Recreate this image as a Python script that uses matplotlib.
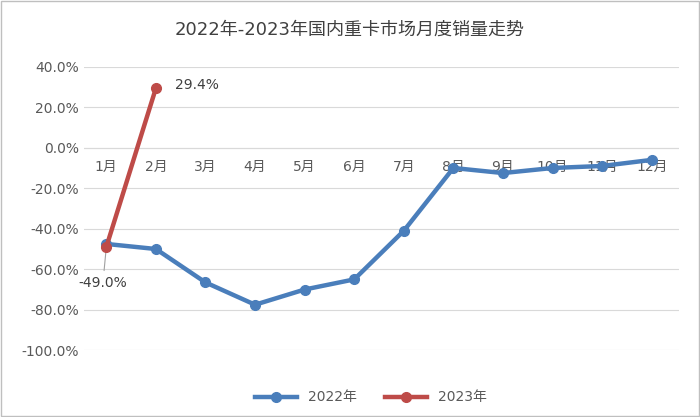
import numpy as np
import matplotlib.pyplot as plt
from matplotlib import font_manager

cjk = [f.name for f in font_manager.fontManager.ttflist if 'CJK' in f.name]
plt.rcParams['font.family'] = ['DejaVu Sans'] + sorted(set(cjk))

months = ['1月', '2月', '3月', '4月', '5月', '6月', '7月', '8月', '9月', '10月', '11月', '12月']
sales_2022 = [-47.5, -50.0, -66.5, -77.5, -70.0, -65.0, -41.0, -10.0, -12.5, -10.0, -9.0, -6.0]
sales_2023 = [-49.0, 29.4]

fig = plt.figure(figsize=(7.0, 4.17), dpi=100)
ax = fig.add_axes([0.12, 0.16, 0.85, 0.68])
x = np.arange(len(months))

ax.plot(x, sales_2022, color='#4a7ebb', lw=3.2, marker='o', ms=7, label='2022年', zorder=3)
ax.plot(x[:2], sales_2023, color='#be4b48', lw=3.2, marker='o', ms=7, label='2023年', zorder=4)

ax.annotate('29.4%', (x[1], sales_2023[1]), xytext=(14, 2), textcoords='offset points',
            fontsize=10, color='#404040', va='center')
ax.annotate('-49.0%', (x[0], sales_2023[0]), xytext=(-20, -26), textcoords='offset points',
            fontsize=10, color='#404040', va='center',
            arrowprops=dict(arrowstyle='-', color='#a0a0a0', lw=0.8))

for i, m in enumerate(months):
    ax.text(i, -6, m, ha='center', va='top', fontsize=10, color='#595959', zorder=2)

ax.set_xlim(-0.45, 11.55)
ax.set_ylim(-100, 40)
ax.set_yticks(np.arange(-100, 41, 20))
ax.set_yticklabels([f'{v:.1f}%' for v in np.arange(-100, 41, 20)], fontsize=10, color='#595959')
ax.set_xticks([])
ax.grid(axis='y', color='#d9d9d9', lw=0.8)
ax.set_axisbelow(True)
ax.axhline(0, color='#d9d9d9', lw=0.8)
for s in ax.spines.values():
    s.set_visible(False)
ax.tick_params(axis='y', length=0)

fig.suptitle('2022年-2023年国内重卡市场月度销量走势', y=0.95, fontsize=13, color='#404040')
fig.legend(loc='lower center', ncol=2, frameon=False, fontsize=10, bbox_to_anchor=(0.53, 0.0),
           handlelength=3, labelcolor='#595959')
fig.patches.append(plt.Rectangle((0.002, 0.002), 0.996, 0.996, transform=fig.transFigure,
                                 fill=False, ec='#bfbfbf', lw=1))
fig.savefig('out.png')
